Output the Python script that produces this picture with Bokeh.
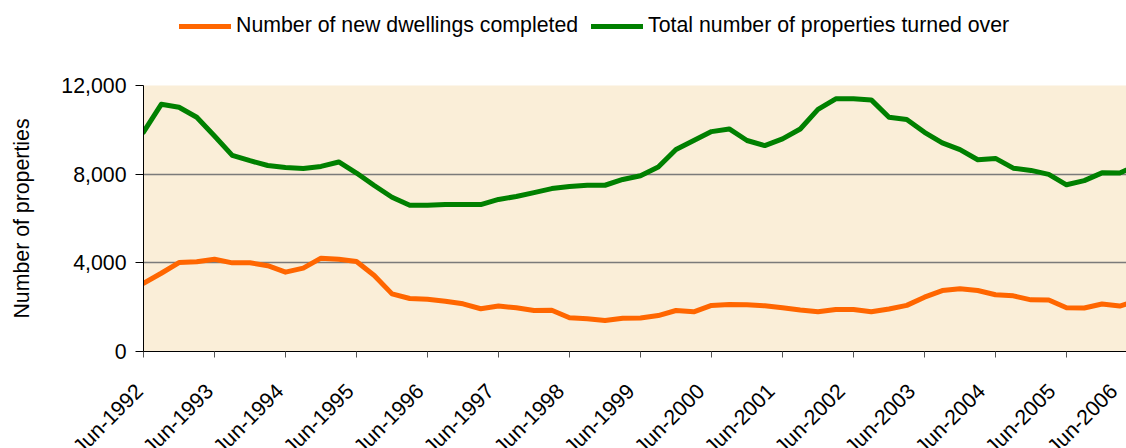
import math
from bokeh.plotting import figure
from bokeh.layouts import column
from bokeh.models import (Range1d, FixedTicker, NumeralTickFormatter, Legend, LegendItem,
                          LinearAxis, Grid)
from bokeh.embed import file_html
from bokeh.resources import INLINE

years = list(range(1992, 2007))
tick_labels = [f"Jun-{y}" for y in years]
series_names = ["Number of new dwellings completed", "Total number of properties turned over"]
series_colors = ["#FF6600", "#008000"]

# quarterly, Jun-1992 .. Jun-2006
new_dwellings = [3080, 3530, 4010, 4050, 4160, 4000, 4000, 3870, 3580, 3760,
                 4210, 4160, 4060, 3430, 2600, 2390, 2360, 2270, 2150, 1930,
                 2050, 1970, 1850, 1860, 1520, 1480, 1400, 1500, 1510, 1620,
                 1850, 1790, 2080, 2120, 2110, 2060, 1970, 1870, 1790, 1890,
                 1890, 1790, 1920, 2080, 2450, 2750, 2830, 2750, 2560, 2510,
                 2330, 2320, 1970, 1960, 2140, 2050, 2300]
turnover = [9900, 11150, 11020, 10570, 9720, 8850, 8610, 8390, 8300, 8260,
            8350, 8550, 8050, 7490, 6960, 6600, 6600, 6630, 6630, 6630,
            6860, 6990, 7170, 7350, 7440, 7500, 7500, 7760, 7930, 8320,
            9110, 9520, 9920, 10040, 9520, 9290, 9590, 10040, 10920, 11400,
            11400, 11350, 10570, 10470, 9890, 9410, 9110, 8650, 8710, 8270,
            8170, 7990, 7520, 7710, 8060, 8050, 8420]
series_values = [new_dwellings, turnover]

x = list(range(len(turnover)))
tick_pos = [4 * i for i in range(len(years))]

FONT = "Liberation Sans"
FS = "21.3px"
LEFT = 143
FRAME_W = 983
XEND = 55.38        # the frame is cropped just before the last quarter
HEAD = 70           # strip holding the legend

# ---------- legend strip (its ranges show none of the data; lines only feed the legend) ----------
top = figure(width=LEFT + FRAME_W, height=HEAD, output_backend="svg", toolbar_location=None,
             x_range=Range1d(0, 1), y_range=Range1d(-2, -1),
             x_axis_location=None, y_axis_location=None,
             min_border_left=LEFT, min_border_right=0, min_border_top=0, min_border_bottom=0)
top.outline_line_color = None
top.background_fill_color = "white"
top.border_fill_color = "white"
top.grid.visible = False
lr = [top.line(x, v, line_color=c, line_width=5, line_cap="round")
      for v, c in zip(series_values, series_colors)]
legend = Legend(items=[LegendItem(label=n, renderers=[r]) for n, r in zip(series_names, lr)],
                orientation="horizontal", location=(36, 32),
                glyph_width=52, glyph_height=20, label_height=20, label_standoff=5, spacing=13,
                padding=0, margin=0, border_line_alpha=0, background_fill_alpha=0,
                label_text_font=FONT, label_text_font_size=FS, label_text_color="black")
top.add_layout(legend, "center")

# ---------- main chart ----------
p = figure(frame_width=FRAME_W, frame_height=266, output_backend="svg", toolbar_location=None,
           x_range=Range1d(0, XEND), y_range=Range1d(0, 12000),
           min_border_left=LEFT, min_border_right=0, min_border_top=85 - HEAD, min_border_bottom=0)
p.background_fill_color = "#FAEED8"
p.border_fill_color = "white"
p.outline_line_color = None

for vals, c in zip(series_values, series_colors):
    p.line(x, vals, line_color=c, line_width=5, line_join="round", line_cap="round")

p.xgrid.visible = False
p.ygrid.grid_line_color = "#7a7a7a"
p.ygrid.grid_line_width = 1.5
p.ygrid.ticker = FixedTicker(ticks=[4000, 8000])
# dark top edge of the plot area (the frame is cropped on the right, so no full outline)
p.add_layout(Grid(dimension=1, ticker=FixedTicker(ticks=[12000]),
                  grid_line_color="black", grid_line_width=1.5))

p.yaxis.ticker = FixedTicker(ticks=[0, 4000, 8000, 12000])
p.yaxis.formatter = NumeralTickFormatter(format="0,0")
p.yaxis.major_tick_out = 8
p.yaxis.major_tick_in = 0
p.yaxis.minor_tick_line_color = None
p.yaxis.major_label_standoff = 9
p.yaxis.major_label_text_font = FONT
p.yaxis.major_label_text_font_size = FS
p.yaxis.major_label_text_color = "black"
p.yaxis.axis_line_color = "black"
p.yaxis.axis_label = "Number of properties"
p.yaxis.axis_label_text_font = FONT
p.yaxis.axis_label_text_font_size = FS
p.yaxis.axis_label_text_font_style = "normal"
p.yaxis.axis_label_text_color = "black"
p.yaxis.axis_label_standoff = 24

# tick marks at the true quarter positions (no labels on this axis)
p.xaxis.ticker = FixedTicker(ticks=[], minor_ticks=tick_pos)
p.xaxis.minor_tick_out = 6
p.xaxis.minor_tick_in = 0
p.xaxis.minor_tick_line_color = "#555555"
p.xaxis.major_tick_line_color = None
p.xaxis.major_label_standoff = 0
p.xaxis.axis_line_color = "black"

# rotated labels on a slightly compressed scale so the cropped last label still shows
p.extra_x_ranges = {"lab": Range1d(-0.01, 56.01)}
lab_axis = LinearAxis(x_range_name="lab", ticker=FixedTicker(ticks=tick_pos),
                      major_label_overrides={t: lab + "\u00a0" for t, lab in zip(tick_pos, tick_labels)},
                      major_label_orientation=math.pi / 4, major_label_standoff=26,
                      major_tick_out=0, major_tick_in=0, major_tick_line_color=None,
                      minor_tick_line_color=None, axis_line_color=None,
                      major_label_text_font=FONT, major_label_text_font_size=FS,
                      major_label_text_color="black")
p.add_layout(lab_axis, "below")

layout = column(top, p, spacing=0)
open("out.html", "w").write(file_html(layout, INLINE))
